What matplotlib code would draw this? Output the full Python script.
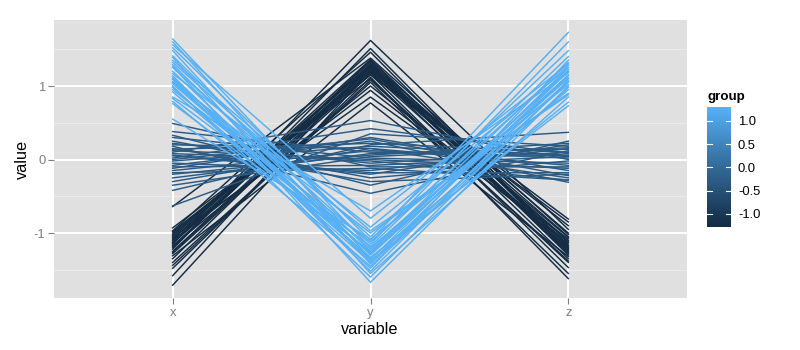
import numpy as np
import matplotlib
matplotlib.use("Agg")
import matplotlib.pyplot as plt
from matplotlib.colors import LinearSegmentedColormap, Normalize

plt.rcParams["font.family"] = ["Liberation Sans", "DejaVu Sans"]

# categories on the x axis
variables = ["x", "y", "z"]

# one value of "group" per cluster of lines
group_levels = [-1.25, -0.3, 1.28]
group_min, group_max = -1.28, 1.30

# values at x / y / z for each line
dark_x = [-1.05, -1.12, -0.98, -1.20, -1.31, -1.08, -0.93, -1.15, -1.02, -1.25,
          -1.40, -1.18, -0.64, -1.10, -1.00, -1.35, -1.48, -1.22, -1.06, -1.13,
          -1.58, -1.28, -0.97, -1.17, -1.71, -1.03, -1.09, -1.44, -1.26, -1.14]
dark_y = [1.22, 1.30, 1.15, 1.35, 0.77, 1.28, 1.10, 1.62, 1.18, 1.25,
          1.05, 1.33, 1.38, 0.94, 1.20, 1.27, 1.12, 1.51, 0.85, 1.24,
          1.31, 1.16, 1.46, 1.00, 1.21, 1.29, 1.36, 1.08, 1.19, 1.26]
dark_z = [-1.10, -1.25, -0.85, -1.18, -1.32, -1.05, -1.40, -0.95, -1.22, -1.12,
          -1.55, -1.30, -1.02, -1.15, -0.81, -1.27, -1.62, -1.20, -1.08, -1.35,
          -1.00, -1.47, -1.24, -1.13, -0.90, -1.28, -1.17, -1.38, -1.06, -1.21]

mid_x = [0.38, 0.05, -0.12, 0.22, -0.30, 0.10, -0.05, 0.30, -0.42, 0.15,
         0.02, -0.20, 0.49, -0.08, 0.18, -0.15, 0.08, -0.63, 0.25, -0.02,
         0.12, -0.25, 0.33, 0.00, -0.10, 0.20, -0.35, 0.06, 0.14, -0.18]
mid_y = [0.10, -0.20, 0.30, -0.05, 0.15, 0.53, -0.15, 0.02, 0.20, -0.30,
         0.42, 0.06, -0.10, 0.25, -0.46, 0.12, -0.02, 0.35, -0.25, 0.18,
         0.00, 0.08, -0.35, 0.28, -0.08, 0.15, 0.04, -0.18, 0.22, -0.12]
mid_z = [0.05, 0.20, -0.15, 0.10, -0.25, 0.00, 0.15, -0.05, 0.37, -0.20,
         0.08, 0.22, -0.10, -0.31, 0.12, 0.02, -0.28, 0.18, -0.02, 0.06,
         -0.12, 0.14, 0.25, -0.22, 0.04, -0.08, 0.16, -0.18, 0.10, -0.28]

light_x = [1.64, 1.60, 1.56, 1.52, 1.48, 1.41, 1.39, 1.32, 1.29, 1.27,
           1.25, 1.17, 1.12, 1.10, 1.09, 1.06, 1.03, 1.00, 0.95, 0.92,
           0.85, 0.83, 0.79, 0.76, 0.55, 1.20, 1.35, 1.14, 1.05, 0.98]
light_y = [-1.20, -1.35, -0.80, -1.10, -1.42, -1.25, -1.55, -1.05, -1.30, -1.67,
           -1.15, -0.92, -1.38, -1.22, -1.48, -1.00, -1.28, -1.60, -1.12, -1.33,
           -0.70, -1.18, -1.45, -1.25, -1.08, -1.36, -0.97, -1.52, -1.27, -1.40]
light_z = [1.10, 0.95, 1.30, 1.73, 1.05, 1.20, 0.85, 1.48, 1.15, 1.00,
           1.60, 1.25, 0.78, 1.12, 1.35, 0.90, 1.22, 1.08, 1.28, 0.73,
           1.18, 1.40, 0.98, 1.32, 1.02, 1.25, 0.88, 1.15, 1.06, 1.20]

yticks = [-1, 0, 1]
colorbar_ticks = [1.0, 0.5, 0.0, -0.5, -1.0]

# ggplot-like gradient
cmap = LinearSegmentedColormap.from_list("gg", ["#132B43", "#336A98", "#56B1F7"])
norm = Normalize(group_min, group_max)

W, H = 800, 350
fig = plt.figure(figsize=(8, 3.5), dpi=100)
ax = fig.add_axes([54 / W, 52 / H, 633 / W, 278 / H])
ax.set_facecolor("#E0E0E0")
for s in ax.spines.values():
    s.set_visible(False)

# grid
for v in [-1.5, -0.5, 0.5, 1.5]:
    ax.axhline(v, color="#EBEBEB", lw=0.8, zorder=0)
for v in yticks:
    ax.axhline(v, color="white", lw=1.4, zorder=0)
xpos = np.arange(1, len(variables) + 1)
for xp in xpos:
    ax.axvline(xp, color="white", lw=1.4, zorder=0)

clusters = [
    (dark_x, dark_y, dark_z, group_levels[0]),
    (mid_x, mid_y, mid_z, group_levels[1]),
    (light_x, light_y, light_z, group_levels[2]),
]
for xs, ys, zs, g in clusters:
    col = cmap(norm(g))
    for a, b, c in zip(xs, ys, zs):
        ax.plot(xpos, [a, b, c], color=col, lw=1.05, zorder=2)

ax.set_xlim(0.4, 3.6)
ax.set_ylim(-1.884, 1.898)
ax.set_xticks(xpos)
ax.set_xticklabels(variables)
ax.set_yticks(yticks)
ax.set_yticklabels([str(t) for t in yticks])
ax.tick_params(colors="#7F7F7F", labelcolor="#7F7F7F", labelsize=9.4,
               length=4.2, width=0.8, pad=2)

fig.text(370 / W, 1 - 334 / H, "variable", ha="center", va="baseline", fontsize=11.7)
fig.text(22 / W, 1 - 159 / H, "value", ha="center", va="center", rotation=90, fontsize=11.7)

# colorbar legend
cax = fig.add_axes([707 / W, 1 - 227 / H, 24 / W, 120 / H])
grad = np.linspace(group_min, group_max, 200).reshape(-1, 1)
cax.imshow(grad, aspect="auto", cmap=cmap, norm=norm, origin="lower",
           extent=[0, 1, group_min, group_max])
cax.set_xlim(0, 1)
cax.set_ylim(group_min, group_max)
for t in colorbar_ticks:
    cax.plot([0, 0.2], [t, t], color="white", lw=0.8)
    cax.plot([0.8, 1], [t, t], color="white", lw=0.8)
cax.set_xticks([])
cax.yaxis.tick_right()
cax.set_yticks(colorbar_ticks)
cax.set_yticklabels([f"{t:.1f}" for t in colorbar_ticks])
cax.tick_params(axis="y", length=0, pad=5, labelsize=9.4, labelcolor="black")
for s in cax.spines.values():
    s.set_visible(False)
fig.text(707 / W, 1 - 97 / H, "group", ha="left", va="center", fontsize=9.6, fontweight="bold")

fig.savefig("out.png", dpi=100)
